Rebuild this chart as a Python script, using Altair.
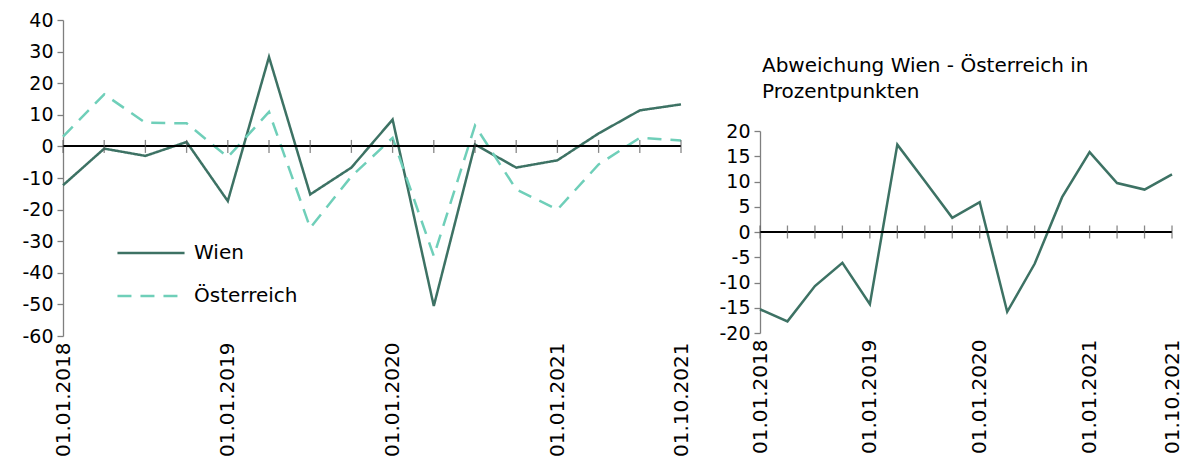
import altair as alt
import pandas as pd

quarters = list(range(16))
tick_labels = {0: "01.01.2018", 4: "01.01.2019", 8: "01.01.2020", 12: "01.01.2021", 15: "01.10.2021"}

wien = [-12.3, -0.7, -3.0, 1.4, -17.3, 28.3, -15.2, -6.7,
        8.5, -50.5, 0.6, -6.7, -4.4, 4.1, 11.4, 13.3]
oesterreich = [3.1, 16.5, 7.5, 7.3, -3.4, 10.9, -25.8, -9.5,
               2.7, -34.7, 6.6, -13.6, -20.0, -5.7, 2.7, 1.9]
abweichung = [-15.3, -17.7, -10.7, -6.1, -14.3, 17.3, 10.1, 2.8,
              5.9, -15.8, -6.3, 6.9, 15.8, 9.7, 8.4, 11.4]

series_names = ["Wien", "Österreich"]
colors = ["#3d7264", "#6fcfb9"]
left_ticks = list(range(-60, 41, 10))
right_ticks = list(range(-20, 21, 5))

FONT = "DejaVu Sans"
LEFT_W, LEFT_H = 618, 316
RIGHT_W, RIGHT_H = 412, 202

rows = []
for i, q in enumerate(quarters):
    rows.append({"q": q, "serie": "Wien", "wert": wien[i]})
    rows.append({"q": q, "serie": "Österreich", "wert": oesterreich[i]})
df_left = pd.DataFrame(rows)
df_right = pd.DataFrame({"q": quarters, "wert": abweichung})
df_ticks = pd.DataFrame({"q": quarters})

label_expr = " : ".join(
    [f"datum.value == {k} ? '{v}'" for k, v in tick_labels.items()]
) + " : ''"

def x_enc():
    return alt.X(
        "q:Q",
        scale=alt.Scale(domain=[0, 15], nice=False, zero=False),
        axis=alt.Axis(
            values=list(tick_labels.keys()), labelExpr=label_expr, labelAngle=270,
            labelFontSize=20, labelFont=FONT, labelColor="#000000", labelPadding=6,
            domain=False, ticks=False, grid=False, title=None, labelFlush=False,
            labelOverlap=False,
        ),
    )

def y_axis(vals):
    return alt.Axis(
        values=vals, grid=False, title=None, labelOverlap=False,
        labelExpr="toString(datum.value)",
        labelFontSize=19, labelFont=FONT, labelColor="#000000",
        domainColor="#7f7f7f", domainWidth=1.3, tickColor="#7f7f7f", tickSize=6,
        tickWidth=1.3, labelPadding=4,
    )

def zero_and_ticks(data, vals, dom):
    ydat = alt.YDatum(0, axis=y_axis(vals), scale=alt.Scale(domain=dom, nice=False))
    zero = alt.Chart(data).mark_rule(color="#000000", strokeWidth=1.3).encode(
        x=alt.value(0), x2=alt.value("width"), y=ydat
    )
    ticks = alt.Chart(data).mark_tick(
        orient="vertical", color="#555555", size=13, thickness=1.3
    ).encode(x=x_enc(), y=ydat)
    return zero, ticks

legend_cfg = dict(
    title=None, orient="none", legendX=53, legendY=215,
    symbolType="stroke", symbolSize=4500, symbolStrokeWidth=2.5,
    labelFontSize=20, labelFont=FONT, labelColor="#000000",
    labelOffset=8, rowPadding=7, clipHeight=36,
)

# Left panel
lines_left = alt.Chart(df_left).mark_line(strokeWidth=2.5).encode(
    x=x_enc(),
    y=alt.Y("wert:Q", scale=alt.Scale(domain=[-60, 40], nice=False), axis=y_axis(left_ticks)),
    color=alt.Color("serie:N", scale=alt.Scale(domain=series_names, range=colors),
                    legend=alt.Legend(**legend_cfg)),
    strokeDash=alt.StrokeDash("serie:N",
                              scale=alt.Scale(domain=series_names, range=[[1, 0], [14, 9]]),
                              legend=alt.Legend(**legend_cfg)),
    order="q:Q",
)
z1, t1 = zero_and_ticks(df_ticks, left_ticks, [-60, 40])
left = alt.layer(lines_left, z1, t1).properties(width=LEFT_W, height=LEFT_H)

# Right panel
line_right = alt.Chart(df_right).mark_line(strokeWidth=2.5, color="#3d7264").encode(
    x=x_enc(),
    y=alt.Y("wert:Q", scale=alt.Scale(domain=[-20, 20], nice=False), axis=y_axis(right_ticks)),
    order="q:Q",
)
z2, t2 = zero_and_ticks(df_ticks, right_ticks, [-20, 20])
right_chart = alt.layer(line_right, z2, t2).properties(
    width=RIGHT_W, height=RIGHT_H,
    title=alt.TitleParams(
        ["Abweichung Wien - Österreich in", "Prozentpunkten"],
        anchor="start", fontSize=20, font=FONT, fontWeight="normal", color="#000000",
        lineHeight=26, offset=20, dx=43,
    ),
)
spacer = alt.Chart(df_ticks).mark_point(opacity=0).encode(
    x=alt.value(0), y=alt.value(0)
).properties(width=RIGHT_W, height=36)
right = alt.vconcat(spacer, right_chart, spacing=0)

chart = alt.hconcat(left, right, spacing=27).configure(
    font=FONT, view=alt.ViewConfig(stroke=None)
).properties(padding={"left": 13, "top": 3, "right": 0, "bottom": 0})

chart.save("out.html", embed_options={"renderer": "svg", "actions": False})
